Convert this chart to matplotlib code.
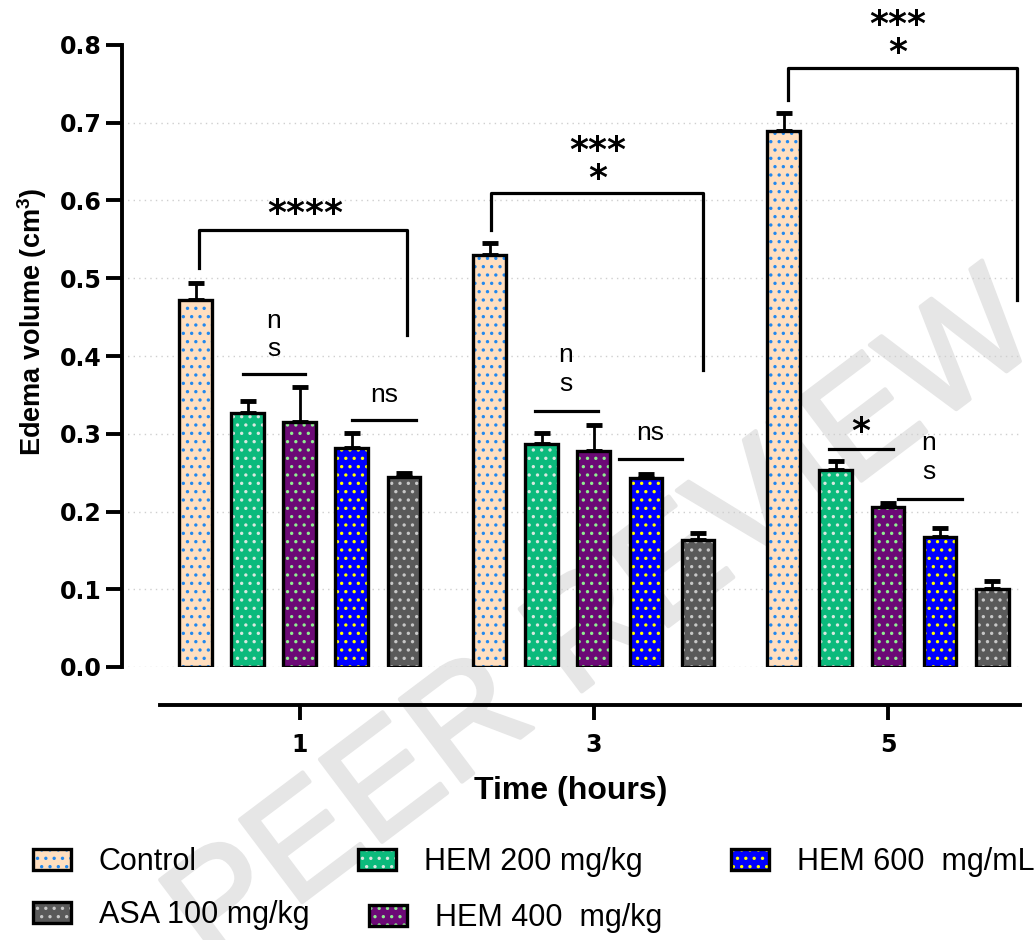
import numpy as np
import matplotlib
matplotlib.use("Agg")
import matplotlib.pyplot as plt
from matplotlib.patches import Patch
import matplotlib.patheffects as pe

plt.rcParams['font.family'] = ['Liberation Sans', 'DejaVu Sans']
plt.rcParams['mathtext.fontset'] = 'custom'
plt.rcParams['mathtext.bf'] = 'Liberation Sans:bold'
plt.rcParams['mathtext.rm'] = 'Liberation Sans'
plt.rcParams['hatch.linewidth'] = 1.2

time_labels = ["1", "3", "5"]
groups = ["Control", "HEM 200 mg/kg", "HEM 400  mg/kg", "HEM 600  mg/mL", "ASA 100 mg/kg"]

control = [0.472, 0.530, 0.690]
hem200 = [0.327, 0.287, 0.253]
hem400 = [0.315, 0.278, 0.206]
hem600 = [0.282, 0.243, 0.167]
asa100 = [0.244, 0.163, 0.100]

control_sd = [0.022, 0.015, 0.022]
hem200_sd = [0.015, 0.014, 0.012]
hem400_sd = [0.045, 0.033, 0.005]
hem600_sd = [0.019, 0.005, 0.012]
asa100_sd = [0.005, 0.009, 0.011]

means = [control, hem200, hem400, hem600, asa100]
sds = [control_sd, hem200_sd, hem400_sd, hem600_sd, asa100_sd]
faces = ['#FFDFC0', '#0CBA7C', '#6C0A76', '#0000FF', '#5A5A5A']
dots = ['#2288EE', '#D8E8E0', '#90EE90', '#FFFF00', '#C8C8C8']

fig = plt.figure(figsize=(10.34, 9.4), dpi=100)
ax = fig.add_axes([122/1034, 1 - 667/940, (1020 - 122)/1034, (667 - 45)/940])
ax.patch.set_visible(False)

fig.text(0.585, 0.335, "PEER REVIEW", rotation=37, fontsize=108, color='#e6e6e6',
         ha='center', va='center', zorder=-1,
         path_effects=[pe.withStroke(linewidth=3, foreground='#e6e6e6')])

x = np.arange(len(time_labels))
step = 0.177
width = 0.112

for v in np.arange(0, 0.75, 0.1):
    ax.axhline(v, color='#cfcfcf', lw=1, ls=(0, (1, 3)), zorder=0)

for i in range(5):
    xi = x + (i - 2) * step
    ax.bar(xi, means[i], width, color=faces[i], edgecolor=dots[i], hatch='..', lw=0, zorder=2)
    ax.bar(xi, means[i], width, fill=False, edgecolor='black', lw=2.4, zorder=3)
    ax.errorbar(xi, means[i], yerr=[np.zeros(3), sds[i]], fmt='none', ecolor='black',
                elinewidth=2, capsize=6, capthick=3.5, zorder=1)

ax.set_xlim(-0.605, 2.449)
ax.set_ylim(0, 0.8)

for s in ['top', 'right']:
    ax.spines[s].set_visible(False)
ax.spines['left'].set_linewidth(2.8)
ax.spines['left'].set_bounds(0, 0.8)
ax.spines['bottom'].set_linewidth(2.8)
ax.spines['bottom'].set_position(('outward', 27.4))
ax.spines['bottom'].set_bounds(-0.476, 2.449)

tick_font = dict(family='DejaVu Sans', fontsize=17, fontweight='bold')
ax.set_yticks(np.arange(0, 0.81, 0.1))
ax.set_yticklabels(["%.1f" % v for v in np.arange(0, 0.81, 0.1)], **tick_font)
ax.set_xticks(x)
ax.set_xticklabels(time_labels, **tick_font)
ax.tick_params(axis='y', length=11.5, width=2.8, pad=3)
ax.tick_params(axis='x', length=11, width=2.8, pad=9)

ax.set_ylabel(r"Edema volume (cm$^\mathbf{3}$)", fontsize=19.5, fontweight='bold')
ax.yaxis.set_label_coords(-0.081, 0.555)
ax.set_xlabel("Time (hours)", fontsize=23, fontweight='bold', labelpad=14)


def bracket(x1, x2, top, b1, b2):
    ax.plot([x1, x1, x2, x2], [b1, top, top, b2], color='black', lw=2.3, clip_on=False, zorder=4)


def hline(x1, x2, y):
    ax.plot([x1, x2], [y, y], color='black', lw=2.3, clip_on=False, zorder=4)


star_kw = dict(ha='center', va='bottom', family='DejaVu Sans', fontsize=26, fontweight='bold',
               linespacing=0.78, clip_on=False)
ns_kw = dict(ha='center', va='center', fontsize=19, linespacing=1.25, clip_on=False)

bracket(-0.344, 0.364, 0.562, 0.513, 0.427)
ax.text(0.017, 0.561, "****", **star_kw)
bracket(0.650, 1.371, 0.610, 0.562, 0.382)
ax.text(1.014, 0.606, "***\n*", **star_kw)
bracket(1.660, 2.439, 0.770, 0.729, 0.472)
ax.text(2.034, 0.768, "***\n*", **star_kw)

hline(-0.194, 0.017, 0.377)
ax.text(-0.088, 0.427, "n\ns", **ns_kw)
hline(0.177, 0.395, 0.318)
ax.text(0.286, 0.350, "ns", **ns_kw)

hline(0.799, 1.014, 0.329)
ax.text(0.905, 0.383, "n\ns", **ns_kw)
hline(1.085, 1.299, 0.268)
ax.text(1.190, 0.301, "ns", **ns_kw)

hline(1.799, 2.017, 0.280)
ax.text(1.908, 0.281, "*", **star_kw)
hline(2.034, 2.252, 0.216)
ax.text(2.139, 0.269, "n\ns", **ns_kw)

# legend entries placed one by one (pixel spots from the reference)
spots = {0: (33, 862), 4: (33, 915), 1: (358, 862), 2: (369, 918), 3: (731, 862)}
for i, (px, py) in spots.items():
    h1 = Patch(facecolor=faces[i], edgecolor=dots[i], hatch='..', lw=0)
    h2 = Patch(fill=False, edgecolor='black', lw=2.4)
    fig.legend([(h1, h2)], [groups[i]], loc='center left',
               bbox_to_anchor=(px/1034, 1 - py/940), frameon=False, fontsize=22,
               handlelength=1.25, handleheight=0.7, handletextpad=0.9,
               borderpad=0, borderaxespad=0)

fig.savefig("out.png", dpi=100)
